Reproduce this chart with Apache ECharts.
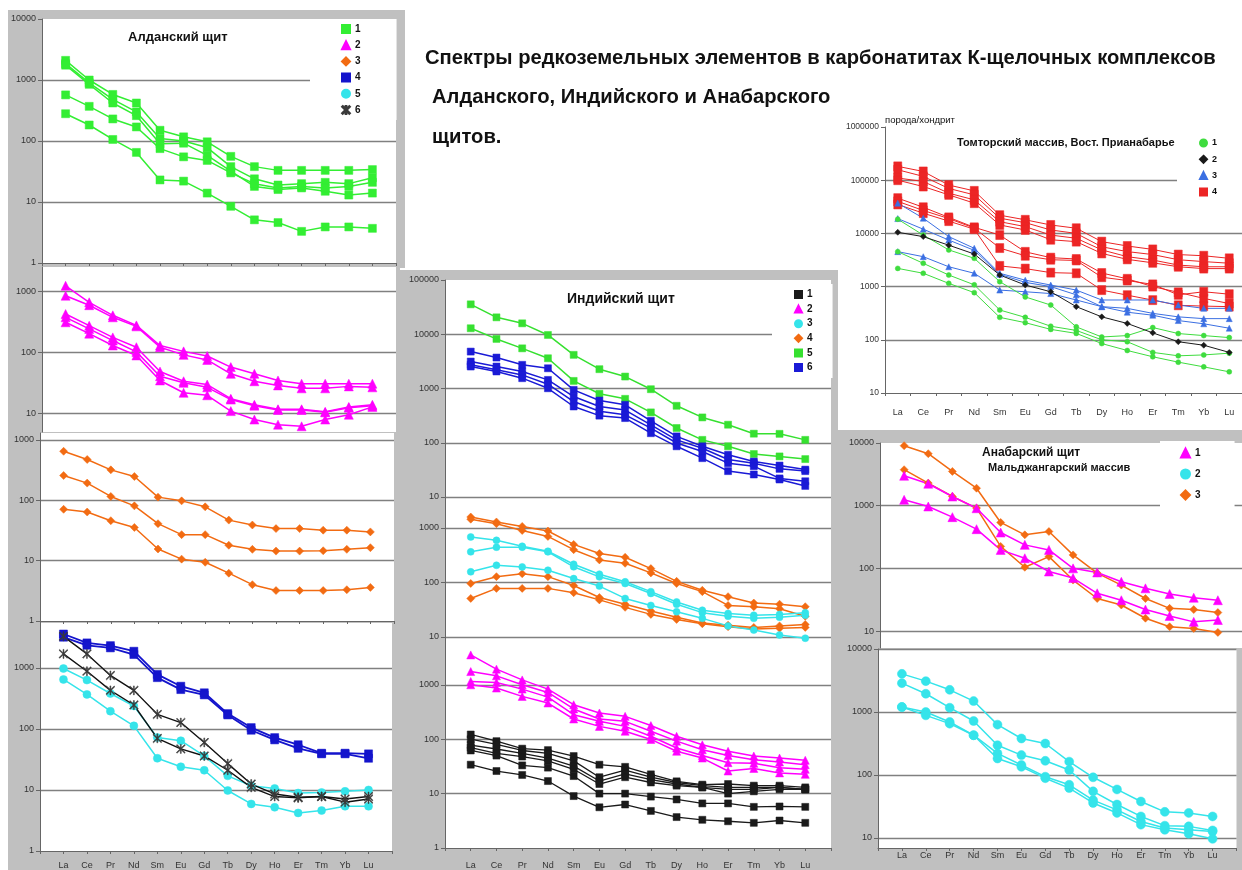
<!DOCTYPE html>
<html><head><meta charset="utf-8">
<script src="https://cdn.jsdelivr.net/npm/echarts@6/dist/echarts.min.js"></script>
<style>html,body{margin:0;padding:0;background:#fff}#c{width:1242px;height:870px}</style>
</head><body><div id="c"></div>
<script>
// ---------- categories ----------
const ree = ['La','Ce','Pr','Nd','Sm','Eu','Gd','Tb','Dy','Ho','Er','Tm','Yb','Lu'];
const reePadded = [' '].concat(ree, ['  ']);

// ---------- Алданский щит (rock/chondrite) ----------
const aldan1 = [ // green squares
  [2100,1000,580,420,150,117,97,56,38,33,33,33,33,34],
  [1850,900,480,300,110,100,78,38,24,19,20,21,20,25],
  [1750,850,420,260,90,92,58,32,18,16,17,15,13,14],
  [570,370,230,170,75,55,48,30,20,17,18,17,18,21],
  [280,183,106,65,23,22,14,8.5,5.1,4.6,3.3,3.9,3.9,3.7]
];
const aldan2 = [ // magenta triangles
  [1250,670,410,280,131,105,88,58,45,35,31,31,31,31],
  [860,600,380,270,123,92,76,45,34,29,26,26,28,27],
  [430,277,178,123,49,34,30,17.6,14,11.8,11.8,10.7,12.9,14],
  [380,245,158,103,41,32,27,17,13.5,11.5,11.5,10.5,12.5,13.5],
  [315,205,131,90,35,22,20,11,8,6.6,6.2,8,9.6,12.9]
];
const aldan3 = [ // orange diamonds
  [650,475,320,248,113,98,78,47,39,34,34,32,32,30],
  [258,193,116,81,41,27,27,18,15.4,14.4,14.4,14.6,15.4,16.4],
  [71,64,46,35.5,15.6,10.6,9.4,6.2,4,3.2,3.2,3.2,3.3,3.6]
];
const aldan4 = [ // blue squares
  [3580,2560,2310,1870,780,500,390,178,105,72,55,40,40,39],
  [3170,2340,2120,1650,690,440,360,169,95,66,48,39,39,33]
];
const aldan5 = [ // cyan circles
  [975,630,380,237,72,64,36,17,11.7,10.6,8.9,9.1,9.5,10],
  [645,367,195,112,33,24,21,9.8,5.9,5.2,4.2,4.6,5.4,5.4]
];
const aldan6 = [ // black stars
  [3280,1690,750,427,173,127,60,27,12.5,8.6,7.6,7.8,7.1,7.8],
  [1690,880,427,246,70,47,36,21,11,7.8,7.4,7.8,6.3,7.1]
];

// ---------- Индийский щит ----------
const ind1 = [ // black squares
  [122,92,67,63,49,34,31,22.6,16.8,14.6,15,14,14,13],
  [100,80,62,55,40,20,27,20,16,14,13,13,13,12],
  [78,66,55,45,32,17,23,18,15,13,12,12,13,12],
  [70,55,48,40,28,15,20,16,14,13,10,11,12,12],
  [62,50,33,30,21,10,10,8.8,7.8,6.6,6.6,5.7,5.8,5.7],
  [34,26,22,17,9,5.6,6.3,4.8,3.7,3.3,3.1,2.9,3.2,2.9]
];
const ind2 = [ // magenta triangles
  [3540,1940,1230,833,430,303,263,178,113,79,60,49,45,41],
  [1750,1460,1000,724,359,235,213,140,92,64,50,42,38,34],
  [1150,1100,833,594,282,213,172,113,69,50,37,36,30,28],
  [1000,870,612,462,235,172,140,99,60,45,26,29,24,22.6]
];
const ind3 = [ // cyan circles
  [684,594,462,374,216,142,103,68,44,31,27,25,26,28],
  [365,445,445,365,194,127,96,63,40,28,24,22,23,25],
  [157,207,193,168,118,86,51,38,29,22,16,13.4,10.9,9.5]
];
const ind4 = [ // orange diamonds
  [1590,1290,1070,880,500,340,290,180,105,72,55,42,40,36],
  [1450,1200,900,700,400,260,225,150,96,68,38,36,33,24],
  [96,128,145,128,88,53,40,30,23,18,16.5,15,16,17],
  [51,78,78,78,65,48,35,26,21,17.5,15.5,14,14.5,15]
];
const ind5 = [ // green squares
  [35600,20500,15900,9700,4170,2270,1660,970,480,293,215,147,146,113],
  [12900,8200,5500,3610,1380,800,645,363,187,113,86,62,56,50]
];
const ind6 = [ // blue squares
  [4790,3720,2730,2360,944,600,500,254,131,86,60,45,38,32],
  [3140,2540,2060,1440,710,466,400,213,113,79,49,42,33,30],
  [2730,2210,1780,1200,575,380,327,186,99,69,42,37,22,19.5],
  [2540,2060,1550,1010,466,316,285,150,86,52,30,26,21,16]
];

// ---------- Томторский массив ----------
const tom1 = [ // green circles
  [18500,9300,4900,3400,1240,640,450,175,113,120,170,131,120,110],
  [4540,2740,1650,1080,363,264,180,150,100,92,58,50,52,56],
  [2200,1780,1150,770,264,210,157,132,85,63,48,38,31,25]
];
const tom2 = [ // black diamonds
  [10500,8700,6000,4100,1650,1070,800,420,270,203,135,92,79,58]
];
const tom3 = [ // blue triangles
  [37000,19300,8700,5250,1780,1320,1070,860,560,560,560,450,390,390],
  [19000,12000,7500,4800,1700,1200,1000,700,420,330,290,230,200,165],
  [4540,3650,2360,1780,860,800,740,560,420,390,314,270,250,250]
];
const tom4 = [ // red squares
  [182000,146000,81000,63000,22000,18000,14400,12500,7000,5800,5000,4000,3800,3400],
  [157000,118000,70000,53000,19300,15900,11600,10000,5600,4550,4000,3200,2950,2750],
  [110000,94600,57000,42700,16600,13400,9300,8100,4900,3650,3160,2540,2360,2360],
  [100000,76000,53000,37000,14400,11600,7600,7000,4200,3250,2800,2360,2180,2180],
  [46000,31000,20000,13000,9300,4500,3500,3300,1800,1400,1000,780,600,480],
  [40000,27000,19000,12600,5300,3800,3200,3100,1500,1300,1100,700,800,720],
  [35000,24000,17000,12000,2450,2180,1830,1780,860,690,557,445,430,420]
];

// ---------- Анабарский щит, Мальджангарский массив ----------
const nab1 = [ // magenta triangles
  [3000,2240,1400,910,373,237,197,100,86,61,48,39,34,31],
  [1240,970,656,422,197,145,89,70,40,31,22,17.4,14,15]
];
const nab2 = [ // cyan circles
  [4030,3090,2250,1490,630,380,316,163,92,59,38,26,25,22],
  [2870,1950,1170,720,297,207,168,120,55,34,22,15.7,15.3,13.2],
  [1200,1000,695,428,220,144,94,70,40,28,18.3,14.4,13.5,12.7],
  [1200,885,653,428,183,135,89,62,36,25,16.3,13.5,11.7,9.7]
];
const nab3 = [ // orange diamonds
  [9060,6750,3520,1900,540,343,387,164,84,54,33,23,22,19.7],
  [3750,2290,1400,915,224,104,154,65,33,26,16,11.7,11,9.5]
];

// ---------- texts ----------
const mainTitle = ['Спектры редкоземельных элементов в карбонатитах К-щелочных комплексов',
                   'Алданского, Индийского и Анабарского', 'щитов.'];

// ---------- build ----------
const FONT = '"Liberation Sans", Arial, sans-serif';
const STAR = 'path://M-1,-10L1,-10L1,10L-1,10Z M-8.2,-9.8L9.8,8.2L8.2,9.8L-9.8,-8.2Z M-9.8,8.2L8.2,-9.8L9.8,-8.2L-8.2,9.8Z';
const C = {green:'#33ee33', magenta:'#ff00ff', orange:'#f26b12', blue:'#1414cc', cyan:'#35e4ea',
           black:'#1a1a1a', red:'#ec2525', tblue:'#3b6fe2', tgreen:'#3fdc3f'};

const grids = [], xAxes = [], yAxes = [], series = [];
function panel(p) {
  const gi = grids.length;
  grids.push({left:p.left, top:p.top, width:p.width, height:p.height, show:true,
              backgroundColor:'#ffffff', borderWidth:0});
  xAxes.push({gridIndex:gi, type:'category', boundaryGap:!p.pad, data:p.pad ? reePadded : ree,
    axisLine:{show:!!p.xLine, onZero:false, lineStyle:{color:'#666', width:1}},
    axisTick:{show:!!p.xLine, interval:0, length:3, lineStyle:{color:'#666'}},
    axisLabel:{show:!!p.xLabels, interval:0, fontSize:9, color:'#333', fontFamily:FONT, margin:p.xMargin || 8},
    splitLine:{show:false}});
  yAxes.push({gridIndex:gi, type:'log', logBase:10, min:p.min, max:p.max,
    axisLine:{show:true, lineStyle:{color:'#666', width:1}},
    axisTick:{show:true, length:4, lineStyle:{color:'#666'}},
    axisLabel:{show:true, fontSize:p.yFont || 9, color:'#333', fontFamily:FONT, margin:6,
               showMinLabel:!p.hideMin, showMaxLabel:!p.hideMax, formatter:v => String(Math.round(v))},
    splitLine:{show:true, showMinLine:!!p.minLine, showMaxLine:!!p.maxLine,
               lineStyle:{color:'#808080', width:1.4}}});
  return gi;
}
function lines(gi, rows, name, color, symbol, size, width, lineColor) {
  rows.forEach(vals => {
    series.push({type:'line', name:name, xAxisIndex:gi, yAxisIndex:gi,
      data:vals.map((v, i) => [ree[i], v]),
      symbol:symbol, symbolSize:size, showAllSymbol:true, animation:false,
      lineStyle:{color:lineColor || color, width:width},
      itemStyle:{color:color, borderColor:color, borderWidth:0.5},
      emphasis:{disabled:true}});
  });
}

const gA = panel({left:42, top:19, width:354, height:244, min:1, max:10000, pad:true, xLine:true});
const gB = panel({left:42, top:267, width:354, height:165, min:5.0, max:2540, pad:true, hideMin:true, hideMax:true});
const gC = panel({left:40, top:433, width:354, height:188, min:1, max:1306, pad:true, xLine:true, hideMax:true});
const gD = panel({left:40, top:623, width:352, height:229, min:1, max:5420, pad:true, xLine:true, xLabels:true, xMargin:10, hideMax:true});
const gI1 = panel({left:445, top:280, width:386, height:217, min:10, max:100000, pad:true, minLine:true});
const gI2 = panel({left:445, top:498, width:386, height:143, min:8.45, max:3550, pad:true, hideMin:true, hideMax:true});
const gI3 = panel({left:445, top:641, width:386, height:208, min:1, max:6380, pad:true, xLine:true, xLabels:true, xMargin:13, hideMax:true});
const gT = panel({left:885, top:127, width:363, height:266, min:10, max:1000000, pad:false, xLine:true, xLabels:true, xMargin:15, yFont:8.5});
const gN1 = panel({left:880, top:443, width:362, height:205, min:5.36, max:10000, pad:true, hideMin:true});
const gN2 = panel({left:878, top:649, width:364, height:199, min:6.94, max:10000, pad:true, xLine:true, xLabels:true, xMargin:3, hideMin:true, maxLine:true});

lines(gA, aldan1, 'a1', C.green, 'rect', 8, 1.5);
lines(gB, aldan2, 'a2', C.magenta, 'triangle', 9, 1.5);
lines(gC, aldan3, 'a3', C.orange, 'diamond', 8, 1.5);
lines(gD, aldan4, 'a4', C.blue, 'rect', 8, 1.8);
lines(gD, aldan5, 'a5', C.cyan, 'circle', 8, 1.5);
lines(gD, aldan6, 'a6', '#3a3a3a', STAR, 9, 1.4, '#111');

lines(gI1, ind5, 'i5', '#36e030', 'rect', 7, 1.5);
lines(gI1, ind6, 'i6', '#1a1ad6', 'rect', 7, 1.5);
lines(gI2, ind4, 'i4', C.orange, 'diamond', 8, 1.5);
lines(gI2, ind3, 'i3', C.cyan, 'circle', 7, 1.5);
lines(gI3, ind2, 'i2', C.magenta, 'triangle', 8, 1.5);
lines(gI3, ind1, 'i1', C.black, 'rect', 7, 1.3);

lines(gT, tom4, 't4', C.red, 'rect', [8, 9], 1);
lines(gT, tom3, 't3', C.tblue, 'triangle', 6, 1);
lines(gT, tom1, 't1', C.tgreen, 'circle', 5, 1);
lines(gT, tom2, 't2', C.black, 'diamond', 6, 1);

lines(gN1, nab3, 'n3', C.orange, 'diamond', 8, 1.5);
lines(gN1, nab1, 'n1', C.magenta, 'triangle', 9, 1.5);
lines(gN2, nab2, 'n2', C.cyan, 'circle', 9, 1.5);

const legendBase = {orient:'vertical', backgroundColor:'#ffffff', selectedMode:false,
  formatter:n => n.slice(1), borderWidth:0};
const legends = [
  Object.assign({}, legendBase, {left:310, top:19, padding:[4,36,4,31], itemGap:4.2, itemWidth:8, itemHeight:8,
    textStyle:{fontSize:10, fontWeight:'bold', color:'#111', fontFamily:FONT, lineHeight:12},
    data:[{name:'a1', icon:'rect'}, {name:'a2', icon:'triangle'}, {name:'a3', icon:'diamond'},
          {name:'a4', icon:'rect'}, {name:'a5', icon:'circle'}, {name:'a6', icon:STAR}]}),
  Object.assign({}, legendBase, {left:772, top:284, padding:[5,20,5,22], itemGap:3.6, itemWidth:7, itemHeight:7,
    textStyle:{fontSize:10, fontWeight:'bold', color:'#111', fontFamily:FONT, lineHeight:11},
    data:[{name:'i1', icon:'rect'}, {name:'i2', icon:'triangle'}, {name:'i3', icon:'circle'},
          {name:'i4', icon:'diamond'}, {name:'i5', icon:'rect'}, {name:'i6', icon:'rect'}]}),
  Object.assign({}, legendBase, {left:1177, top:133, padding:[4,30,4,22], itemGap:4.3, itemWidth:7, itemHeight:7,
    textStyle:{fontSize:9, fontWeight:'bold', color:'#111', fontFamily:FONT, lineHeight:12},
    data:[{name:'t1', icon:'circle'}, {name:'t2', icon:'diamond'}, {name:'t3', icon:'triangle'}, {name:'t4', icon:'rect'}]}),
  Object.assign({}, legendBase, {left:1160, top:441, padding:[6,34,6,20], itemGap:9, itemWidth:9, itemHeight:9,
    textStyle:{fontSize:10, fontWeight:'bold', color:'#111', fontFamily:FONT, lineHeight:12},
    data:[{name:'n1', icon:'triangle'}, {name:'n2', icon:'circle'}, {name:'n3', icon:'diamond'}]})
];

function txt(s, x, y, size, bold) {
  return {type:'text', x:x, y:y, silent:true, z:10,
    style:{text:s, fill:'#111', font:(bold ? 'bold ' : '') + size + 'px ' + FONT,
           align:'left', verticalAlign:'middle', textAlign:'left', textVerticalAlign:'middle'}};
}
const graphics = [
  {type:'rect', z:-1, silent:true, shape:{x:8, y:10, width:392, height:860}, style:{fill:'#c0c0c0'}},
  {type:'rect', z:-1, silent:true, shape:{x:398, y:10, width:7, height:258}, style:{fill:'#c0c0c0'}},
  {type:'rect', z:-1, silent:true, shape:{x:398, y:270, width:440, height:600}, style:{fill:'#c0c0c0'}},
  {type:'rect', z:-1, silent:true, shape:{x:835, y:430, width:407, height:440}, style:{fill:'#c0c0c0'}},
  txt(mainTitle[0], 425, 58, 20.2, true),
  txt(mainTitle[1], 432, 97, 20.2, true),
  txt(mainTitle[2], 432, 137, 20.2, true),
  txt('Алданский щит', 128, 37, 13, true),
  txt('Индийский щит', 567, 299, 14, true),
  txt('Томторский массив, Вост. Прианабарье', 957, 143, 11, true),
  txt('Анабарский щит', 982, 453, 12, true),
  txt('Мальджангарский массив', 988, 468, 11, true),
  txt('порода/хондрит', 885, 120, 9.5, false)
];

const chart = echarts.init(document.getElementById('c'), null, {renderer:'canvas'});
chart.setOption({
  animation:false,
  backgroundColor:'#ffffff',
  grid:grids, xAxis:xAxes, yAxis:yAxes, series:series,
  legend:legends, graphic:graphics
});
</script>
</body></html>
